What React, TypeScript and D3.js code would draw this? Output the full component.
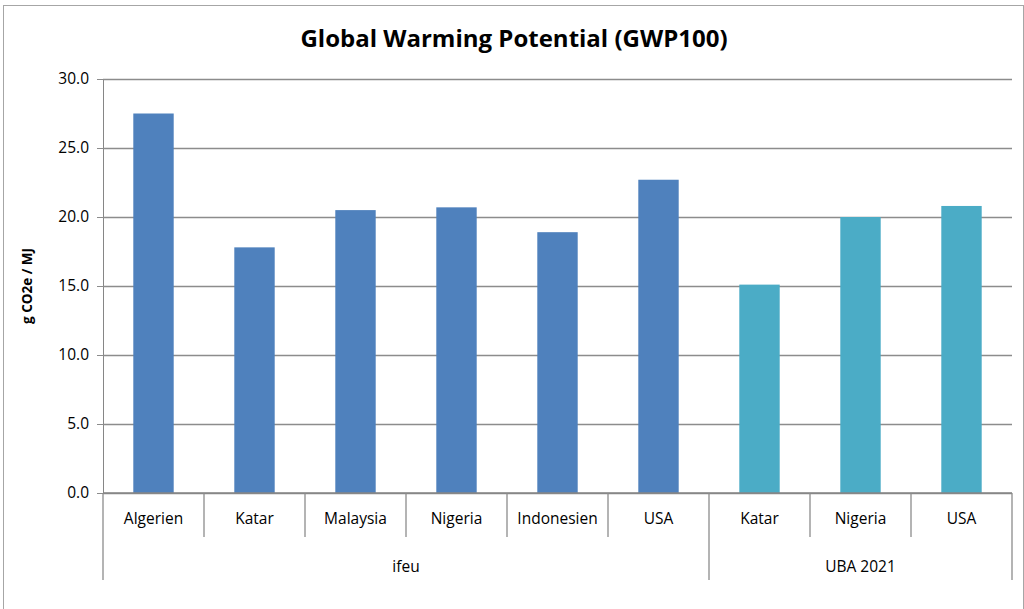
import React, { useEffect, useRef } from "react";
import * as d3 from "d3";

const categories = ["Algerien", "Katar", "Malaysia", "Nigeria", "Indonesien", "USA", "Katar", "Nigeria", "USA"];
const groups = ["ifeu", "ifeu", "ifeu", "ifeu", "ifeu", "ifeu", "UBA 2021", "UBA 2021", "UBA 2021"];
const values = [27.5, 17.8, 20.5, 20.7, 18.9, 22.7, 15.1, 20.0, 20.8];
const yTicks = [0, 5, 10, 15, 20, 25, 30];
const groupColors: Record<string, string> = { ifeu: "#4F81BD", "UBA 2021": "#4BACC6" };

export default function App() {
  const svgRef = useRef<SVGSVGElement>(null);

  useEffect(() => {
    const svg = d3.select(svgRef.current);
    svg.selectAll("*").remove();

    const width = 1024;
    const height = 609;
    const margin = { top: 79, right: 12, bottom: 116, left: 103 };
    const font = "'Open Sans', sans-serif";

    // outer chart border
    svg.append("rect")
      .attr("x", 3.5).attr("y", 5.5)
      .attr("width", width - 4).attr("height", height - 4)
      .attr("fill", "white").attr("stroke", "#a6a6a6");

    const x = d3.scaleBand<number>()
      .domain(d3.range(categories.length))
      .range([margin.left, width - margin.right]);

    const y = d3.scaleLinear()
      .domain([0, 30])
      .range([height - margin.bottom, margin.top]);

    // gridlines + y ticks
    const yAxis = d3.axisLeft(y)
      .tickValues(yTicks)
      .tickFormat(d3.format(".1f"))
      .tickSize(-(width - margin.right - margin.left))
      .tickSizeOuter(0)
      .tickPadding(14);

    const yg = svg.append("g")
      .attr("transform", `translate(${margin.left},0)`)
      .call(yAxis);
    yg.select(".domain").attr("stroke", "#868686");
    yg.selectAll(".tick line").attr("stroke", "#8c8c8c").attr("stroke-width", 1.3);
    yg.selectAll(".tick").append("line")
      .attr("x1", -6).attr("x2", 0).attr("stroke", "#8c8c8c");
    yg.selectAll(".tick text")
      .attr("font-family", font).attr("font-size", 15.5).attr("fill", "#000");

    // bars
    const barW = x.bandwidth() * 0.4;
    svg.append("g")
      .selectAll("rect")
      .data(values)
      .join("rect")
      .attr("x", (_, i) => (x(i) as number) + (x.bandwidth() - barW) / 2)
      .attr("y", (d) => y(d))
      .attr("width", barW)
      .attr("height", (d) => y(0) - y(d))
      .attr("fill", (_, i) => groupColors[groups[i]]);

    // category axis
    const base = y(0);
    const ax = svg.append("g");
    ax.append("line")
      .attr("x1", margin.left).attr("x2", width - margin.right)
      .attr("y1", base).attr("y2", base)
      .attr("stroke", "#868686").attr("stroke-width", 1.3);

    const bounds = d3.range(categories.length + 1).map((i) =>
      i < categories.length ? (x(i) as number) : (x(i - 1) as number) + x.bandwidth()
    );
    const groupStarts = bounds.filter((_, i) => i === 0 || i === categories.length || groups[i] !== groups[i - 1]);

    ax.selectAll("line.tick")
      .data(bounds)
      .join("line")
      .attr("class", "tick")
      .attr("x1", (d) => d).attr("x2", (d) => d)
      .attr("y1", base)
      .attr("y2", (d) => (groupStarts.includes(d) ? base + 87 : base + 44))
      .attr("stroke", "#8c8c8c").attr("stroke-width", 1.3);

    ax.selectAll("text.cat")
      .data(categories)
      .join("text")
      .attr("class", "cat")
      .attr("x", (_, i) => (x(i) as number) + x.bandwidth() / 2)
      .attr("y", base + 31)
      .attr("text-anchor", "middle")
      .attr("font-family", font).attr("font-size", 15.5)
      .text((d) => d);

    const groupNames = Array.from(new Set(groups));
    ax.selectAll("text.grp")
      .data(groupNames)
      .join("text")
      .attr("class", "grp")
      .attr("x", (g) => {
        const idx = groups.map((v, i) => (v === g ? i : -1)).filter((i) => i >= 0);
        const a = x(idx[0]) as number;
        const b = (x(idx[idx.length - 1]) as number) + x.bandwidth();
        return (a + b) / 2;
      })
      .attr("y", base + 79)
      .attr("text-anchor", "middle")
      .attr("font-family", font).attr("font-size", 15.5)
      .text((d) => d);

    // title
    svg.append("text")
      .attr("x", 514).attr("y", 47)
      .attr("text-anchor", "middle")
      .attr("font-family", font).attr("font-size", 24).attr("font-weight", "bold")
      .text("Global Warming Potential (GWP100)");

    // y label
    svg.append("text")
      .attr("transform", `translate(32,${(margin.top + base) / 2}) rotate(-90)`)
      .attr("text-anchor", "middle")
      .attr("font-family", font).attr("font-size", 13.5).attr("font-weight", "bold")
      .text("g CO2e / MJ");
  }, []);

  return (
    <svg ref={svgRef} width={1024} height={609} style={{ position: "absolute", left: 0, top: 0 }} />
  );
}
